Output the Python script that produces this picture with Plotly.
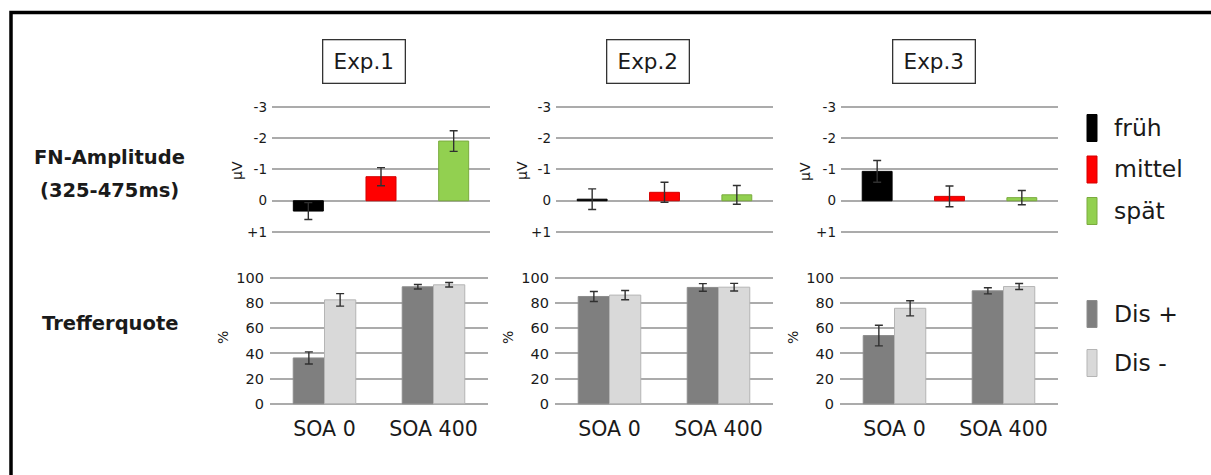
import plotly.graph_objects as go

W, H = 1211, 475
FONT = "DejaVu Sans"
TXT = "#1a1a1a"
GRID = "#ababab"

# ---------------- data ----------------
experiments = ["Exp.1", "Exp.2", "Exp.3"]

fn_categories = ["früh", "mittel", "spät"]
fn_colors = ["#000000", "#ff0000", "#92d050"]
fn_line_colors = ["#000000", "#d40000", "#7aab3e"]
fn_exp1 = [0.33, -0.77, -1.91]
fn_exp1_err = [0.27, 0.29, 0.33]
fn_exp2 = [-0.05, -0.27, -0.19]
fn_exp2_err = [0.33, 0.32, 0.30]
fn_exp3 = [-0.94, -0.14, -0.10]
fn_exp3_err = [0.35, 0.33, 0.23]
fn_tickvals = [-3, -2, -1, 0, 1]
fn_ticktext = ["-3", "-2", "-1", "0", "+1"]

soa_categories = ["SOA 0", "SOA 400"]
dis_labels = ["Dis +", "Dis -"]
dis_colors = ["#7f7f7f", "#d9d9d9"]
dis_line_colors = ["#8c8c8c", "#b5b5b5"]
hit_exp1_dis_plus = [36.4, 93.0]
hit_exp1_dis_plus_err = [4.8, 1.8]
hit_exp1_dis_minus = [82.6, 94.6]
hit_exp1_dis_minus_err = [5.0, 1.8]
hit_exp2_dis_plus = [85.3, 92.5]
hit_exp2_dis_plus_err = [4.0, 3.0]
hit_exp2_dis_minus = [86.4, 92.7]
hit_exp2_dis_minus_err = [3.7, 3.0]
hit_exp3_dis_plus = [54.2, 89.8]
hit_exp3_dis_plus_err = [8.2, 2.4]
hit_exp3_dis_minus = [75.9, 93.2]
hit_exp3_dis_minus_err = [6.0, 2.4]
hit_tickvals = [0, 20, 40, 60, 80, 100]

row_titles = ["FN-Amplitude", "(325-475ms)", "Trefferquote"]
fn_unit = "µV"
hit_unit = "%"

fn_values = [fn_exp1, fn_exp2, fn_exp3]
fn_errors = [fn_exp1_err, fn_exp2_err, fn_exp3_err]
hit_plus = [hit_exp1_dis_plus, hit_exp2_dis_plus, hit_exp3_dis_plus]
hit_plus_err = [hit_exp1_dis_plus_err, hit_exp2_dis_plus_err, hit_exp3_dis_plus_err]
hit_minus = [hit_exp1_dis_minus, hit_exp2_dis_minus, hit_exp3_dis_minus]
hit_minus_err = [hit_exp1_dis_minus_err, hit_exp2_dis_minus_err, hit_exp3_dis_minus_err]


# ---------------- layout helpers (pixel -> paper) ----------------
def px(x):
    return x / W


def py(y):
    return 1 - y / H


top_x = [(272, 490), (556, 773), (841, 1058)]
bot_x = [(270, 488), (555, 773), (840, 1058)]
# small padding so that the gridlines at both range ends are drawn
TOP_PAD = 0.05      # in µV  (31.25 px per unit)
BOT_PAD = 1.5       # in %   (1.257 px per unit)
top_y = (107 - TOP_PAD * 31.25, 232 + TOP_PAD * 31.25)
bot_y = (278 - BOT_PAD * 1.257, 403.7 + BOT_PAD * 1.257)

fig = go.Figure()
layout = dict(
    width=W, height=H, autosize=False,
    margin=dict(l=0, r=0, t=0, b=0, pad=0, autoexpand=False),
    paper_bgcolor="white", plot_bgcolor="white",
    showlegend=False,
    barmode="group",
    font=dict(family=FONT, color=TXT),
)

err_style = dict(type="data", symmetric=True, color="#303030", thickness=1.4, width=4)

for i in range(3):
    # ----- top: FN amplitude -----
    xa, ya = f"x{i + 1}", f"y{i + 1}"
    fig.add_trace(go.Bar(
        x=fn_categories, y=fn_values[i],
        marker=dict(color=fn_colors, line=dict(color=fn_line_colors, width=1)),
        width=0.413,
        error_y=dict(array=fn_errors[i], **err_style),
        xaxis=xa, yaxis=ya,
    ))
    layout[f"xaxis{i + 1}"] = dict(
        domain=[px(top_x[i][0]), px(top_x[i][1])], anchor=ya,
        type="category", range=[-0.5, 2.5], automargin=False,
        showticklabels=False, showgrid=False, zeroline=False, showline=False, ticks="",
    )
    layout[f"yaxis{i + 1}"] = dict(
        domain=[py(top_y[1]), py(top_y[0])], anchor=xa, automargin=False,
        range=[1 + TOP_PAD, -3 - TOP_PAD], tickvals=fn_tickvals, ticktext=fn_ticktext,
        showgrid=True, gridcolor=GRID, gridwidth=2, zeroline=False, showline=False,
        ticks="", ticklabelstandoff=4,
        tickfont=dict(family=FONT, size=13.5, color=TXT),
    )

    # ----- bottom: hit rate -----
    j = i + 4
    xa, ya = f"x{j}", f"y{j}"
    fig.add_trace(go.Bar(
        x=soa_categories, y=hit_plus[i], name=dis_labels[0],
        marker=dict(color=dis_colors[0], line=dict(color=dis_line_colors[0], width=1)),
        width=0.287, offset=-0.287,
        error_y=dict(array=hit_plus_err[i], **err_style),
        xaxis=xa, yaxis=ya,
    ))
    fig.add_trace(go.Bar(
        x=soa_categories, y=hit_minus[i], name=dis_labels[1],
        marker=dict(color=dis_colors[1], line=dict(color=dis_line_colors[1], width=1)),
        width=0.287, offset=0,
        error_y=dict(array=hit_minus_err[i], **err_style),
        xaxis=xa, yaxis=ya,
    ))
    layout[f"xaxis{j}"] = dict(
        domain=[px(bot_x[i][0]), px(bot_x[i][1])], anchor=ya, automargin=False,
        type="category", range=[-0.5, 1.5],
        showgrid=False, zeroline=False, showline=False, ticks="",
        ticklabelstandoff=9,
        tickfont=dict(family=FONT, size=20.5, color=TXT),
    )
    layout[f"yaxis{j}"] = dict(
        domain=[py(bot_y[1]), py(bot_y[0])], anchor=xa, automargin=False,
        range=[-BOT_PAD, 100 + BOT_PAD], tickvals=hit_tickvals,
        showgrid=True, gridcolor=GRID, gridwidth=2, zeroline=False, showline=False,
        ticks="", ticklabelstandoff=5,
        tickfont=dict(family=FONT, size=14.5, color=TXT),
    )

fig.update_layout(**layout)

annotations = []
shapes = []

# outer frame (open at right/bottom as in the reference crop)
shapes.append(dict(type="rect", xref="paper", yref="paper",
                   x0=px(11), x1=px(1230), y0=py(12.5), y1=py(500),
                   line=dict(color="black", width=3.5), fillcolor="rgba(0,0,0,0)"))

# experiment header boxes
exp_centers = [364, 648, 934]
for name, cx in zip(experiments, exp_centers):
    annotations.append(dict(
        text=name, x=px(cx), y=py(61), xref="paper", yref="paper",
        xanchor="center", yanchor="middle", showarrow=False,
        font=dict(family=FONT, size=21.5, color=TXT),
        bordercolor="#333333", borderwidth=1.3, borderpad=0,
        width=81, height=42, bgcolor="white",
    ))

# row titles
for text, (cx, cy) in zip(row_titles, [(109, 157), (109, 190), (110, 323)]):
    annotations.append(dict(
        text=f"<b>{text}</b>", x=px(cx), y=py(cy), xref="paper", yref="paper",
        xanchor="center", yanchor="middle", showarrow=False,
        font=dict(family=FONT, size=19.5, color=TXT),
    ))

# unit labels (rotated)
for cx in [237, 522, 805]:
    annotations.append(dict(
        text=fn_unit, x=px(cx), y=py(171), xref="paper", yref="paper",
        xanchor="center", yanchor="middle", showarrow=False, textangle=-90,
        font=dict(family=FONT, size=14, color=TXT),
    ))
for cx in [223, 508, 793]:
    annotations.append(dict(
        text=hit_unit, x=px(cx), y=py(338), xref="paper", yref="paper",
        xanchor="center", yanchor="middle", showarrow=False, textangle=-90,
        font=dict(family=FONT, size=14, color=TXT),
    ))

# legend keys
legend_items = list(zip(fn_categories, fn_colors, fn_line_colors, [128, 169.5, 211])) + \
    list(zip(dis_labels, dis_colors, dis_line_colors, [314, 363]))
for label, col, lcol, cy in legend_items:
    shapes.append(dict(type="rect", xref="paper", yref="paper",
                       x0=px(1087), x1=px(1097), y0=py(cy + 13.5), y1=py(cy - 13.5),
                       fillcolor=col, line=dict(color=lcol, width=1)))
    annotations.append(dict(
        text=label, x=px(1112), y=py(cy), xref="paper", yref="paper",
        xanchor="left", yanchor="middle", showarrow=False,
        font=dict(family=FONT, size=23.5, color=TXT),
    ))

fig.update_layout(annotations=annotations, shapes=shapes)

pin_to_corner = (
    "document.body.style.margin='0';"
    "var gd=document.getElementById('{plot_id}');"
    "gd.style.position='fixed';gd.style.left='0px';gd.style.top='0px';"
)
fig.write_html("out.html", post_script=pin_to_corner, config={"displayModeBar": False})
